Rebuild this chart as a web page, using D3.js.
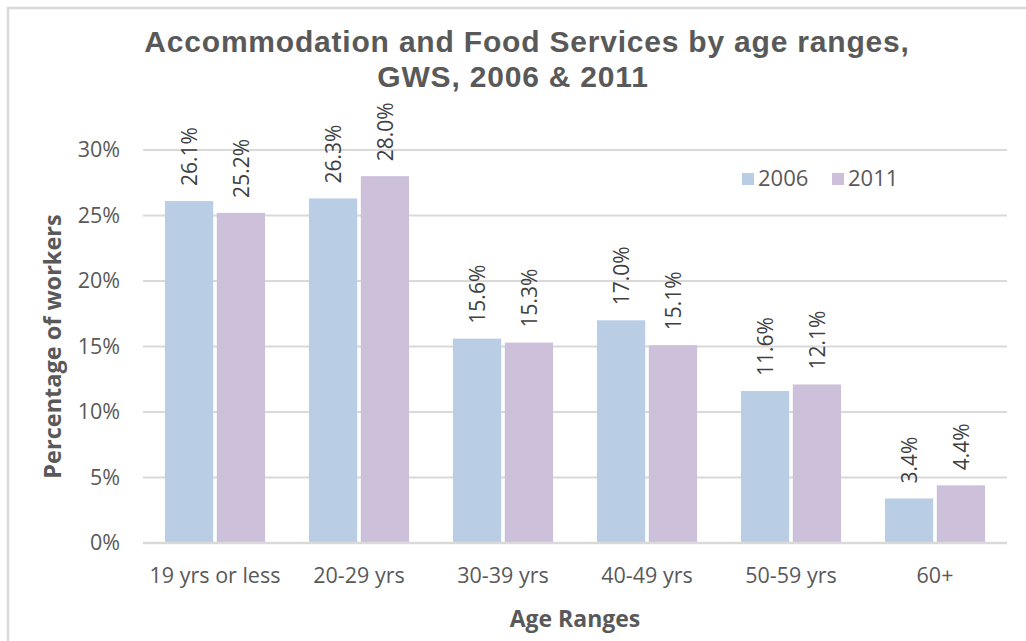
<!DOCTYPE html>
<html>
<head>
<meta charset="utf-8">
<script src="https://cdn.jsdelivr.net/npm/d3@7"></script>
<style>
  html, body { margin: 0; padding: 0; background: #fff; }
  svg { display: block; }
  text { font-family: "Open Sans", sans-serif; }
</style>
</head>
<body>
<svg id="chart" width="1026" height="641"></svg>
<script>
// Age ranges and share of workers (%) in Accommodation and Food Services
const categories = ["19 yrs or less", "20-29 yrs", "30-39 yrs", "40-49 yrs", "50-59 yrs", "60+"];
const seriesNames = ["2006", "2011"];
const values2006 = [26.1, 26.3, 15.6, 17.0, 11.6, 3.4];
const values2011 = [25.2, 28.0, 15.3, 15.1, 12.1, 4.4];
const yTicks = [0, 5, 10, 15, 20, 25, 30];
const colors = ["#b9cde5", "#ccc0da"];

const svg = d3.select("#chart");
const W = 1026, H = 641;
const margin = { left: 143, right: 19, top: 150, bottom: 98 };
const plotW = W - margin.left - margin.right;
const plotH = H - margin.top - margin.bottom;
const textFont = "'Open Sans', sans-serif";

// Outer frame of the chart area
svg.append("rect")
  .attr("x", 8).attr("y", 8)
  .attr("width", W + 10).attr("height", H + 10)
  .attr("fill", "#fff")
  .attr("stroke", "#d9d9d9").attr("stroke-width", 2.5);

const g = svg.append("g").attr("transform", `translate(${margin.left},${margin.top})`);

const x0 = d3.scaleBand().domain(categories).range([0, plotW]).paddingInner(0.305).paddingOuter(0.1525);
const x1 = d3.scaleBand().domain(seriesNames).range([0, x0.bandwidth()]).paddingInner(0.07);
const y = d3.scaleLinear().domain([0, 30]).range([plotH, 0]);

// Horizontal gridlines
g.append("g").selectAll("line").data(yTicks).join("line")
  .attr("x1", 0).attr("x2", plotW)
  .attr("y1", d => y(d)).attr("y2", d => y(d))
  .attr("stroke", "#d9d9d9").attr("stroke-width", 2);

// Y axis tick labels
const yAxis = d3.axisLeft(y).tickValues(yTicks).tickFormat(d => d + "%").tickSize(0).tickPadding(23);
g.append("g").call(yAxis)
  .call(s => s.select(".domain").remove())
  .call(s => s.selectAll("text")
    .attr("fill", "#595959").attr("font-size", 21.5)
    .style("font-family", textFont));

// X axis category labels
const xAxis = d3.axisBottom(x0).tickSize(0).tickPadding(25);
g.append("g").attr("transform", `translate(0,${plotH})`).call(xAxis)
  .call(s => s.select(".domain").remove())
  .call(s => s.selectAll("text")
    .attr("fill", "#595959").attr("font-size", 21.5)
    .style("font-family", textFont));

const rows = categories.map((c, i) => ({ cat: c, vals: [values2006[i], values2011[i]] }));

const groups = g.append("g").selectAll("g").data(rows).join("g")
  .attr("transform", d => `translate(${x0(d.cat)},0)`);

const cells = groups.selectAll("g").data(d => d.vals.map((v, j) => ({ key: seriesNames[j], v, j }))).join("g");

cells.append("rect")
  .attr("x", d => x1(d.key))
  .attr("width", x1.bandwidth())
  .attr("y", d => y(d.v))
  .attr("height", d => y(0) - y(d.v))
  .attr("fill", d => colors[d.j]);

// Value labels, rotated above each bar
cells.append("text")
  .attr("transform", d => `translate(${x1(d.key) + x1.bandwidth() / 2 + 8},${y(d.v) - 15}) rotate(-90)`)
  .attr("text-anchor", "start")
  .attr("fill", "#404040")
  .attr("font-size", 21)
  .text(d => d.v.toFixed(1) + "%");

// Baseline
g.append("line").attr("x1", 0).attr("x2", plotW).attr("y1", y(0)).attr("y2", y(0))
  .attr("stroke", "#d9d9d9").attr("stroke-width", 2.5);

// Title
const title = svg.append("text")
  .attr("text-anchor", "middle")
  .attr("fill", "#595959").attr("font-size", 30).attr("font-weight", "bold")
  .attr("letter-spacing", 0.8)
  .style("font-family", "'Liberation Sans', Arial, sans-serif");
title.append("tspan").attr("x", 527).attr("y", 52).text("Accommodation and Food Services by age ranges,");
title.append("tspan").attr("x", 513).attr("y", 87).text("GWS, 2006 & 2011");

// Axis titles
svg.append("text")
  .attr("transform", `translate(61,${margin.top + plotH / 2}) rotate(-90)`)
  .attr("text-anchor", "middle")
  .attr("fill", "#595959").attr("font-size", 23.5).attr("font-weight", "bold")
  .text("Percentage of workers");

svg.append("text")
  .attr("x", margin.left + plotW / 2).attr("y", 627)
  .attr("text-anchor", "middle")
  .attr("fill", "#595959").attr("font-size", 23).attr("font-weight", "bold")
  .text("Age Ranges");

// Legend
const legend = svg.append("g").attr("transform", "translate(742,173)");
const li = legend.selectAll("g").data(seriesNames).join("g")
  .attr("transform", (d, i) => `translate(${i * 90},0)`);
li.append("rect").attr("width", 12).attr("height", 12).attr("fill", (d, i) => colors[i]);
li.append("text").attr("x", 16).attr("y", 13).attr("fill", "#595959").attr("font-size", 22)
  .text(d => d);
</script>
</body>
</html>
